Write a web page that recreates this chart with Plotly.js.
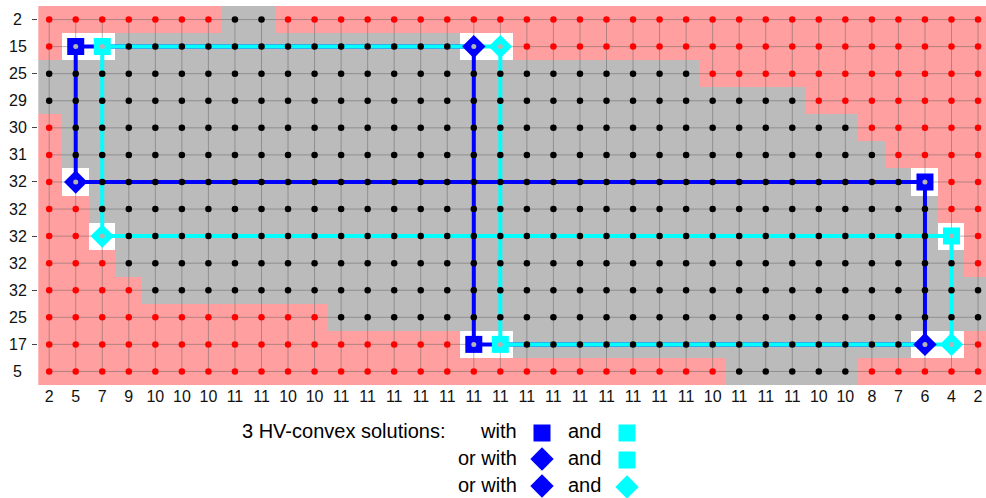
<!DOCTYPE html>
<html><head><meta charset="utf-8">
<script src="https://cdn.plot.ly/plotly-3.0.1.min.js"></script>
<style>html,body{margin:0;padding:0;background:#fff}#chart{width:986px;height:498px}</style>
</head><body><div id="chart"></div>
<script>
// ---- data ----
const rowSums = [2,15,25,29,30,31,32,32,32,32,32,25,17,5];
const colSums = [2,5,7,9,10,10,10,11,11,10,10,11,11,11,11,11,11,11,11,11,11,11,11,11,11,10,11,11,11,10,10,8,7,6,4,2];
// first / last column of the fixed (black) cells in every row
const blackStart = [7,3,0,0,1,1,2,2,3,3,4,11,18,26];
const blackEnd   = [8,15,24,28,30,31,32,33,33,34,35,35,32,30];
// undecided cells, grouped by the marker that shows them
const blueSquareCol   = [1,33,16];  const blueSquareRow   = [1,6,12];
const blueDiamondCol  = [16,1,33];  const blueDiamondRow  = [1,6,12];
const cyanSquareCol   = [2,34,17];  const cyanSquareRow   = [1,8,12];
const cyanDiamondCol  = [17,2,34];  const cyanDiamondRow  = [1,8,12];
// the two rectangles joining the undecided cells
const bluePathCol = [1,16,16,33,33,1,1];  const bluePathRow = [1,1,12,12,6,6,1];
const cyanPathCol = [2,17,17,34,34,2,2];  const cyanPathRow = [1,1,12,12,8,8,1];
const legendTitle = '3 HV-convex solutions:';
const legendPrefix = ['with','or with','or with'];
const legendFirst  = ['square','diamond','diamond'];
const legendSecond = ['square','square','diamond'];

// ---- styles ----
const W = 986, H = 498;
const plotLeft = 38.3, plotTop = 6, plotBottom = 385;
const PINK = '#FF9F9F', GRAY = '#BBBBBB', BLUE = '#0000FF', CYAN = '#00FFFF';
const FONT = 'Liberation Sans, Arial, sans-serif';
const SQ = 17, DI = 18;

const nRows = rowSums.length, nCols = colSums.length;
const undecided = new Set();
[[blueSquareCol,blueSquareRow],[blueDiamondCol,blueDiamondRow],[cyanSquareCol,cyanSquareRow],[cyanDiamondCol,cyanDiamondRow]]
  .forEach(([cs,rs]) => cs.forEach((c,i) => undecided.add(c + ',' + rs[i])));

const z = [];
const bx=[],by=[],rx=[],ry=[],gx=[],gy=[];
for (let r=0;r<nRows;r++){
  const row=[];
  for (let c=0;c<nCols;c++){
    if (undecided.has(c+','+r)) { row.push(2); gx.push(c); gy.push(r); }
    else if (c>=blackStart[r] && c<=blackEnd[r]) { row.push(1); bx.push(c); by.push(r); }
    else { row.push(0); rx.push(c); ry.push(r); }
  }
  z.push(row);
}
const cols = colSums.map((_,i)=>i), rows = rowSums.map((_,i)=>i);

// grid mesh
const lx=[], ly=[];
rows.forEach(r=>{ lx.push(0,nCols-1,null); ly.push(r,r,null); });
cols.forEach(c=>{ lx.push(c,c,null); ly.push(0,nRows-1,null); });

const traces = [
  {type:'heatmap', z:z, x:cols, y:rows, zmin:0, zmax:2, showscale:false, hoverinfo:'skip',
   colorscale:[[0,PINK],[0.5,GRAY],[1,'#FFFFFF']]},
  {type:'scatter', mode:'lines', x:lx, y:ly, line:{color:'rgba(90,90,90,0.45)', width:1}, hoverinfo:'skip'},
  {type:'scatter', mode:'lines', x:bluePathCol, y:bluePathRow, line:{color:BLUE, width:4}, hoverinfo:'skip'},
  {type:'scatter', mode:'lines', x:cyanPathCol, y:cyanPathRow, line:{color:CYAN, width:4}, hoverinfo:'skip'},
  {type:'scatter', mode:'markers', x:blueSquareCol, y:blueSquareRow, marker:{symbol:'square', size:SQ, color:BLUE}},
  {type:'scatter', mode:'markers', x:blueDiamondCol, y:blueDiamondRow, marker:{symbol:'diamond', size:DI, color:BLUE}},
  {type:'scatter', mode:'markers', x:cyanSquareCol, y:cyanSquareRow, marker:{symbol:'square', size:SQ, color:CYAN}},
  {type:'scatter', mode:'markers', x:cyanDiamondCol, y:cyanDiamondRow, marker:{symbol:'diamond', size:DI, color:CYAN}},
  {type:'scatter', mode:'markers', x:bx, y:by, marker:{size:6.5, color:'#000000'}},
  {type:'scatter', mode:'markers', x:rx, y:ry, marker:{size:6.5, color:'#FF0000'}},
  {type:'scatter', mode:'markers', x:gx, y:gy, marker:{size:5, color:'#B4B4B4'}}
];

// legend (pixel coordinates on a hidden overlay axis pair)
const legRowY = [432, 459, 486];
const firstX = 542, secondX = 627;
legendFirst.forEach((s,i)=>{
  traces.push({type:'scatter', mode:'markers', xaxis:'x2', yaxis:'y2', x:[firstX], y:[legRowY[i]+ (s==='square'?1:0)],
    marker:{symbol:s, size:s==='square'?SQ:DI, color:BLUE}});
});
legendSecond.forEach((s,i)=>{
  traces.push({type:'scatter', mode:'markers', xaxis:'x2', yaxis:'y2', x:[secondX], y:[legRowY[i]+1],
    marker:{symbol:s, size:s==='square'?SQ:DI, color:CYAN}});
});
traces.forEach(t=>{ t.hoverinfo='skip'; t.showlegend=false; });

const annotations = [];
rows.forEach(r=>annotations.push({xref:'paper', yref:'y', x:17.5/W, y:r, text:String(rowSums[r]),
  showarrow:false, xanchor:'center', yanchor:'middle', font:{family:FONT, size:16, color:'#111'}}));
annotations.push({xref:'x2', yref:'y2', x:447, y:legRowY[0]-1, text:legendTitle, showarrow:false,
  xanchor:'right', yanchor:'middle', font:{family:FONT, size:20, color:'#000'}});
legendPrefix.forEach((t,i)=>{
  annotations.push({xref:'x2', yref:'y2', x:519, y:legRowY[i]-1, text:t, showarrow:false,
    xanchor:'right', yanchor:'middle', font:{family:FONT, size:20, color:'#000'}});
  annotations.push({xref:'x2', yref:'y2', x:566, y:legRowY[i]-1, text:'and', showarrow:false,
    xanchor:'left', yanchor:'middle', font:{family:FONT, size:20, color:'#000'}});
});

const layout = {
  width:W, height:H, margin:{l:0,r:0,t:0,b:0}, paper_bgcolor:'#FFFFFF', plot_bgcolor:'rgba(0,0,0,0)',
  showlegend:false,
  xaxis:{domain:[plotLeft/W,1], range:[-0.41,35.3], tickvals:cols, ticktext:colSums.map(String), ticks:'',
    showgrid:false, zeroline:false, showline:false, automargin:false,
    tickfont:{family:FONT, size:16, color:'#111'}},
  yaxis:{domain:[1-plotBottom/H, 1-plotTop/H], range:[nRows-0.5,-0.5], showticklabels:false,
    showgrid:false, zeroline:false, showline:false, automargin:false},
  xaxis2:{domain:[0,1], range:[0,W], visible:false, anchor:'y2'},
  yaxis2:{domain:[0,0.2], range:[H, H*0.8], visible:false, anchor:'x2'},
  annotations:annotations
};
Plotly.newPlot('chart', traces, layout, {staticPlot:true, displayModeBar:false});
</script></body></html>
